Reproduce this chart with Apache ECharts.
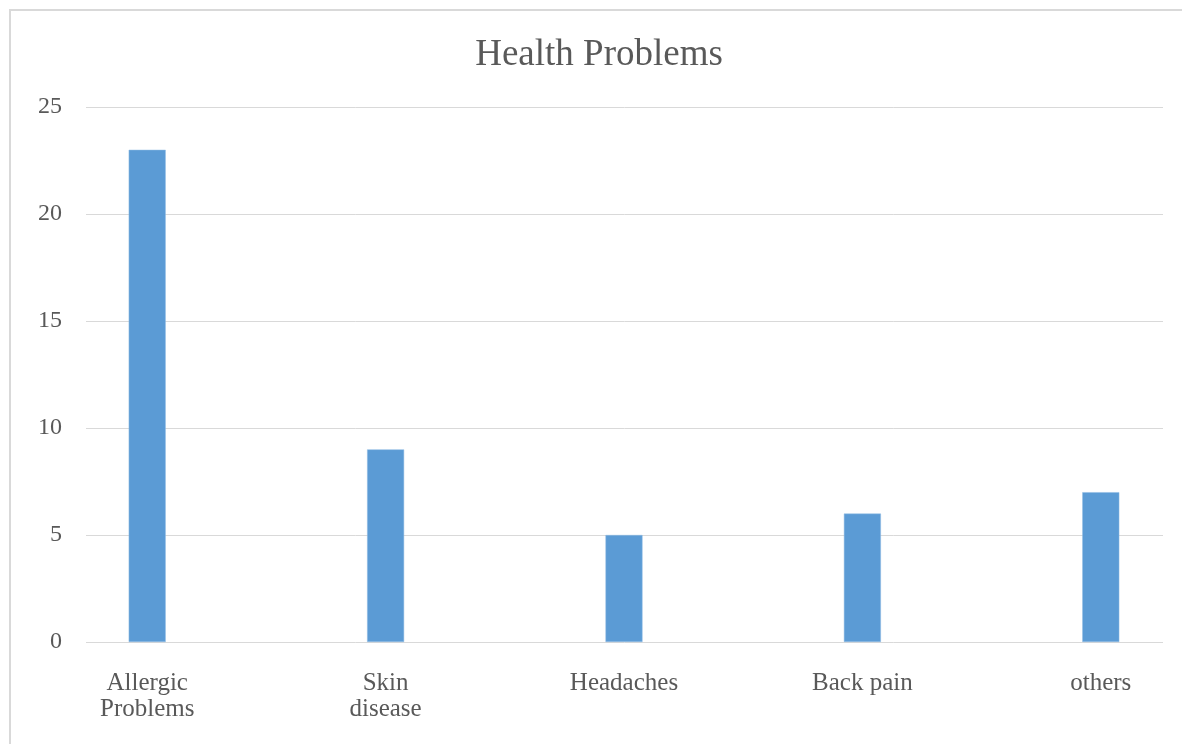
<!DOCTYPE html>
<html>
<head>
<meta charset="utf-8">
<script src="https://cdn.jsdelivr.net/npm/echarts@6/dist/echarts.min.js"></script>
<style>
  html, body { margin: 0; padding: 0; background: #fff; overflow: hidden; width: 1182px; height: 744px; }
  /* canvas is a bit wider than the window so the bar grid can run past the right edge */
  #main { width: 1240px; height: 744px; }
</style>
</head>
<body>
<div id="main"></div>
<script>
// data
var categories = ['Allergic\nProblems', 'Skin\ndisease', 'Headaches', 'Back pain', 'others'];
var counts = [23, 9, 5, 6, 7];
var yTicks = [0, 5, 10, 15, 20, 25];

var font = '"Liberation Serif", "Times New Roman", serif';
var textColor = '#595959';

var chart = echarts.init(document.getElementById('main'));

var option = {
  backgroundColor: '#fff',
  animation: false,
  title: {
    text: 'Health Problems',
    left: 594,
    textAlign: 'center',
    top: 32,
    textStyle: { fontFamily: font, fontSize: 37, fontWeight: 'normal', color: textColor }
  },
  // grid 0 carries the value axis and gridlines, grid 1 carries the bars
  grid: [
    { left: 86, right: 77, top: 107, bottom: 102 },
    { left: 28, right: 20, top: 107, bottom: 102 }
  ],
  xAxis: [
    {
      gridIndex: 0, type: 'category', data: categories,
      axisLine: { show: false }, axisTick: { show: false }, axisLabel: { show: false }
    },
    {
      gridIndex: 1, type: 'category', data: categories,
      axisLine: { show: false }, axisTick: { show: false },
      axisLabel: {
        margin: 28, fontFamily: font, fontSize: 25, color: textColor, lineHeight: 26
      }
    }
  ],
  yAxis: [
    {
      gridIndex: 0, type: 'value', min: yTicks[0], max: yTicks[yTicks.length - 1], interval: 5,
      axisLine: { show: false }, axisTick: { show: false },
      splitLine: { lineStyle: { color: '#d9d9d9', width: 1 } },
      axisLabel: { margin: 24, padding: [5, 0, 0, 0], fontFamily: font, fontSize: 24, color: textColor }
    },
    {
      gridIndex: 1, type: 'value', min: 0, max: 25, show: false
    }
  ],
  series: [
    {
      type: 'bar',
      xAxisIndex: 1, yAxisIndex: 1,
      data: counts,
      barWidth: 37,
      itemStyle: { color: '#5b9bd5', borderColor: '#8fbbe3', borderWidth: 0.5 }
    }
  ],
  graphic: [
    {
      type: 'rect',
      shape: { x: 10, y: 10, width: 1185, height: 800 },
      style: { fill: 'none', stroke: '#d9d9d9', lineWidth: 2 },
      silent: true
    }
  ]
};

chart.setOption(option);
</script>
</body>
</html>
